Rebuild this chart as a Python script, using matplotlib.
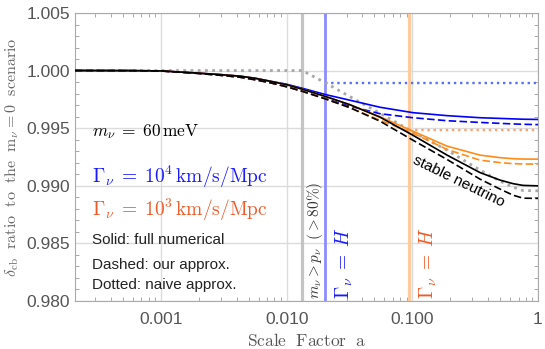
import numpy as np
import matplotlib
matplotlib.use("Agg")
import matplotlib.pyplot as plt
from matplotlib.ticker import FixedLocator, FixedFormatter, MultipleLocator, LogLocator, NullFormatter

plt.rcParams['font.family'] = ['Liberation Sans', 'DejaVu Sans']
plt.rcParams['mathtext.fontset'] = 'cm'

# scale factor grid used for the curves
a_grid = [2.07e-4, 5.7e-4, 1e-3, 1.87e-3, 2.95e-3, 4.26e-3, 5.6e-3, 7.4e-3, 0.01, 0.0133,
          0.0206, 0.0319, 0.0553, 0.101, 0.189, 0.346, 0.499, 0.633, 0.76, 1.0]

stable_full = [1.0, 0.99999, 0.99997, 0.99979, 0.99965, 0.99951, 0.99933, 0.99907, 0.99877, 0.99838,
               0.99773, 0.99703, 0.99595, 0.99438, 0.99265, 0.99113, 0.99048, 0.99017, 0.99002, 0.98998]
stable_approx = [1.0, 0.99999, 0.99996, 0.99977, 0.99959, 0.99942, 0.9992, 0.99894, 0.99859, 0.9982,
                 0.99751, 0.99677, 0.9956, 0.99395, 0.99227, 0.99056, 0.9897, 0.98917, 0.98891, 0.98889]
g4_full = [1.0, 0.99999, 0.99997, 0.99979, 0.99965, 0.99951, 0.99933, 0.99907, 0.99881, 0.99846,
           0.9979, 0.99742, 0.99681, 0.99634, 0.99608, 0.9959, 0.99584, 0.9958, 0.99577, 0.99575]
g4_approx = [1.0, 0.99999, 0.99996, 0.99977, 0.99959, 0.99942, 0.9992, 0.99894, 0.99859, 0.9982,
             0.99755, 0.9969, 0.99625, 0.9959, 0.99564, 0.99549, 0.99541, 0.99536, 0.99533, 0.9953]
g3_full = [1.0, 0.99999, 0.99997, 0.99979, 0.99965, 0.99951, 0.99933, 0.99907, 0.99877, 0.99838,
           0.99773, 0.99703, 0.99599, 0.99473, 0.99343, 0.99265, 0.99243, 0.99234, 0.99231, 0.9923]
g3_approx = [1.0, 0.99999, 0.99996, 0.99977, 0.99959, 0.99942, 0.9992, 0.99894, 0.99859, 0.9982,
             0.99751, 0.99677, 0.99569, 0.99456, 0.99314, 0.99221, 0.992, 0.99191, 0.99188, 0.99187]

# naive approximations
a_naive = [2.07e-4, 0.0133, 0.0206, 0.0319, 0.0553, 0.101, 0.189, 0.346, 0.499, 0.633, 0.76, 1.0]
stable_naive = [1.0, 1.0, 0.9989, 0.99773, 0.99629, 0.99467, 0.99308, 0.99135, 0.99039, 0.98987, 0.98957, 0.98955]
a_g4_naive = [0.0203, 1.0]
g4_naive = [0.99893, 0.99893]
a_g3_naive = [0.0934, 1.0]
g3_naive = [0.99486, 0.99486]

# characteristic scale factors
a_nonrel = 0.0133
a_decay4 = 0.0203
a_decay3 = 0.0934

blue = '#0000ff'
orange = '#ff8c1a'
blue_txt = '#1a1aff'
orange_txt = '#f05a28'

fig = plt.figure(figsize=(5.45, 3.49), dpi=100)
ax = fig.add_axes([75/545, 1-300.7/349, 463/545, 287.7/349])

ax.axvline(a_nonrel, color='#c4c4c4', lw=2.3, zorder=1)
ax.axvline(a_decay4, color='#8c8cff', lw=2.0, zorder=1)
ax.axvline(a_decay3, color='#ffcb9c', lw=2.3, zorder=1)

dots = (0, (1, 1.6))
ax.plot(a_g4_naive, g4_naive, color='#5570ff', lw=1.7, ls=dots, zorder=2)
ax.plot(a_g3_naive, g3_naive, color='#ffa070', lw=1.7, ls=dots, zorder=2)
ax.plot(a_naive, stable_naive, color='#a8a8a8', lw=2.0, ls=dots, zorder=2.5)

ax.plot(a_grid, g4_approx, color=blue, lw=1.2, ls=(0, (4.5, 2)), zorder=3)
ax.plot(a_grid, g3_approx, color=orange, lw=1.2, ls=(0, (4.5, 2)), zorder=3)
ax.plot(a_grid, g4_full, color=blue, lw=1.2, zorder=3)
ax.plot(a_grid, g3_full, color=orange, lw=1.2, zorder=3)
ax.plot(a_grid, stable_approx, color='black', lw=1.2, ls=(0, (4.5, 2)), zorder=4)
ax.plot(a_grid, stable_full, color='black', lw=1.2, zorder=4)

ax.set_xscale('log')
ax.set_xlim(2.07e-4, 1)
ax.set_ylim(0.98, 1.005)

ax.xaxis.set_major_locator(FixedLocator([0.001, 0.01, 0.1, 1]))
ax.xaxis.set_major_formatter(FixedFormatter(['0.001', '0.010', '0.100', '1']))
ax.xaxis.set_minor_locator(LogLocator(base=10, subs=np.arange(2, 10), numticks=20))
ax.xaxis.set_minor_formatter(NullFormatter())
ax.yaxis.set_major_locator(MultipleLocator(0.005))
ax.yaxis.set_minor_locator(MultipleLocator(0.001))
ax.yaxis.set_major_formatter(plt.FuncFormatter(lambda v, p: '%.3f' % v))

ax.grid(True, which='major', color='#dcdcdc', lw=1.0, zorder=0)
ax.set_axisbelow(True)
ax.tick_params(which='both', direction='in', top=True, right=True, colors='#999999',
               labelcolor='#555555', labelsize=12.5)
ax.tick_params(which='major', length=0)
ax.tick_params(which='minor', length=3, width=0.6)
ax.tick_params(axis='x', pad=8)
for s in ax.spines.values():
    s.set_color('#aaaaaa')

ax.set_xlabel(r'$\mathrm{Scale\ \ Factor\ \ a}$', fontsize=12.5, color='#555555', labelpad=4)
ax.set_ylabel(r'$\delta_{\rm cb}\ \ \mathrm{ratio\ \ to\ \ the\ \ m}_\nu = 0\ \ \mathrm{scenario}$',
              fontsize=11.5, color='#666666', labelpad=4)

ax.text(0.037, 0.587, r'$m_\nu\;=\;60\,\mathrm{meV}$', transform=ax.transAxes, fontsize=12.5,
        va='center', ha='left', color='black')
ax.text(0.037, 0.431, r'$\Gamma_\nu\;=\;10^4\,\mathrm{km/s/Mpc}$', transform=ax.transAxes,
        fontsize=14, va='center', ha='left', color=blue_txt)
ax.text(0.037, 0.315, r'$\Gamma_\nu\;=\;10^3\,\mathrm{km/s/Mpc}$', transform=ax.transAxes,
        fontsize=14, va='center', ha='left', color=orange_txt)
ax.text(0.037, 0.211, 'Solid: full numerical', transform=ax.transAxes, fontsize=11,
        va='center', ha='left', color='#222222')
ax.text(0.037, 0.124, 'Dashed: our approx.', transform=ax.transAxes, fontsize=11,
        va='center', ha='left', color='#222222')
ax.text(0.037, 0.055, 'Dotted: naive approx.', transform=ax.transAxes, fontsize=11,
        va='center', ha='left', color='#222222')

tr = ax.get_xaxis_transform()
ax.text(0.0167, 0.21, r'$m_\nu > p_\nu\ \ (>80\%)$', transform=tr, rotation=90, fontsize=11,
        va='center', ha='center', color='#333333')
ax.text(0.029, 0.131, r'$\Gamma_\nu\;=\;H$', transform=tr, rotation=90, fontsize=14,
        va='center', ha='center', color=blue_txt)
ax.text(0.133, 0.131, r'$\Gamma_\nu\;=\;H$', transform=tr, rotation=90, fontsize=14,
        va='center', ha='center', color=orange_txt)
ax.text(0.235, 0.99035, 'stable neutrino', rotation=-26, rotation_mode='anchor', fontsize=11,
        va='center', ha='center', color='black')

fig.savefig('out.png', dpi=100)
